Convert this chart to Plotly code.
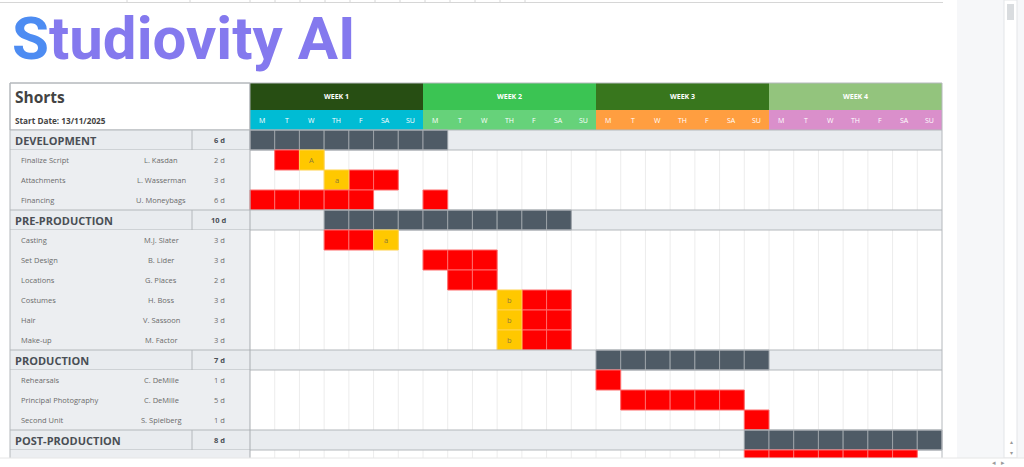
import plotly.graph_objects as go

# ---------------- data ----------------
logo_text = "Studiovity AI"
project_title = "Shorts"
start_date = "Start Date: 13/11/2025"
weeks = ["WEEK 1", "WEEK 2", "WEEK 3", "WEEK 4"]
day_labels = ["M", "T", "W", "TH", "F", "SA", "SU"]

phases = ["DEVELOPMENT", "PRE-PRODUCTION", "PRODUCTION", "POST-PRODUCTION"]
phase_durations = ["6 d", "10 d", "7 d", "8 d"]
phase_starts = [0, 3, 14, 20]
phase_spans = [8, 10, 7, 8]

task_names = [
    ["Finalize Script", "Attachments", "Financing"],
    ["Casting", "Set Design", "Locations", "Costumes", "Hair", "Make-up"],
    ["Rehearsals", "Principal Photography", "Second Unit"],
    [""],
]
task_owners = [
    ["L. Kasdan", "L. Wasserman", "U. Moneybags"],
    ["M.J. Slater", "B. Lider", "G. Places", "H. Boss", "V. Sassoon", "M. Factor"],
    ["C. DeMille", "C. DeMille", "S. Spielberg"],
    [""],
]
task_durations = [
    ["2 d", "3 d", "6 d"],
    ["3 d", "3 d", "2 d", "3 d", "3 d", "3 d"],
    ["1 d", "5 d", "1 d"],
    [""],
]
task_work_days = [
    [[1], [4, 5], [0, 1, 2, 3, 4, 7]],
    [[3, 4], [7, 8, 9], [8, 9], [11, 12], [11, 12], [11, 12]],
    [[14], [15, 16, 17, 18, 19], [20]],
    [[20, 21, 22, 23, 24, 25, 26]],
]
task_milestones = [
    [{2: "A"}, {3: "a"}, {}],
    [{5: "a"}, {}, {}, {10: "b"}, {10: "b"}, {10: "b"}],
    [{}, {}, {}],
    [{}],
]

# ---------------- styling ----------------
W, H = 1024, 467
DAY_PX = 692 / 28
ROW_PX = 20
N_DAYS = 28


def X(p):
    return (p - 250) / DAY_PX


def Y(p):
    return (p - 130) / ROW_PX


WEEK_COLORS = ["#274e13", "#3bc453", "#38761d", "#93c47d"]
DAY_COLORS = ["#00bcd4", "#66d27a", "#ff9e40", "#da8fcb"]
SEC_BG = "#e9ecef"
TASK_BG = "#eceef1"
SUMMARY = "#4f5b66"
RED = "#ff0000"
YELLOW = "#ffc800"
BORDER = "#b4b8bc"
FONT = "Open Sans"

shapes = []
annotations = []


def rect(x0, x1, y0, y1, fill, line=None, lw=0, layer="below"):
    shapes.append(dict(type="rect", xref="x", yref="y", x0=x0, x1=x1, y0=y0, y1=y1,
                       fillcolor=fill, line=dict(color=line or fill, width=lw), layer=layer))


def line(x0, x1, y0, y1, color, width=1, layer="below"):
    shapes.append(dict(type="line", xref="x", yref="y", x0=x0, x1=x1, y0=y0, y1=y1,
                       line=dict(color=color, width=width), layer=layer))


def text(x, y, s, size, color, bold=False, anchor="left", family=FONT):
    annotations.append(dict(x=x, y=y, xref="x", yref="y", text=s, showarrow=False,
                            xanchor=anchor, yanchor="middle",
                            font=dict(family=family, size=size, color=color,
                                      weight="bold" if bold else "normal")))


# build rows
rows = []  # (kind, phase_idx, task_idx)
for p in range(len(phases)):
    rows.append(("phase", p, None))
    for t in range(len(task_names[p])):
        rows.append(("task", p, t))

bottom = Y(H)

# gantt white background and grid lines
rect(0, N_DAYS, 0, bottom, "#ffffff")
for d in range(1, N_DAYS):
    line(d, d, 0, bottom, "#ececec", 1)

# header
top = Y(83)
rect(X(10), 0, top, 0, "#ffffff", BORDER, 1)
for w in range(len(weeks)):
    rect(7 * w, 7 * w + 7, top, -1, WEEK_COLORS[w])
    rect(7 * w, 7 * w + 7, -1, 0, DAY_COLORS[w])
    text(7 * w + 3.5, (top - 1) / 2, "<b>" + weeks[w] + "</b>", 7, "#ffffff", anchor="center")
    for i, dl in enumerate(day_labels):
        text(7 * w + i + 0.5, -0.5, dl, 7, "#ffffff", anchor="center")

text(X(13), Y(97), "<b>" + project_title + "</b>", 15.5, "#434343")
text(X(13), Y(120.5), "<b>" + start_date + "</b>", 8.2, "#434343")

for r, (kind, p, t) in enumerate(rows):
    if kind == "phase":
        rect(X(10), N_DAYS, r, r + 1, SEC_BG)
        for d in range(phase_starts[p], phase_starts[p] + phase_spans[p]):
            rect(d, d + 1, r, r + 1, SUMMARY, "#9aa0a6", 1)
        line(X(10), N_DAYS, r, r, BORDER, 1.2)
        line(X(10), N_DAYS, r + 1, r + 1, BORDER, 1.2)
        line(X(192), X(192), r, r + 1, BORDER, 1)
        text(X(13), r + 0.53, "<b>" + phases[p] + "</b>", 11, "#4a4f55")
        text(X(219), r + 0.5, "<b>" + phase_durations[p] + "</b>", 7.5, "#4a4f55", anchor="center")
    else:
        rect(X(10), 0, r, r + 1, TASK_BG)
        for d in task_work_days[p][t]:
            rect(d, d + 1, r, r + 1, RED, "#ff6a6a", 1)
        for d, lab in task_milestones[p][t].items():
            rect(d, d + 1, r, r + 1, YELLOW, "#ffd24d", 1)
            text(d + 0.5, r + 0.5, lab, 7.5, "#8c7a3c", anchor="center")
        text(X(19), r + 0.5, task_names[p][t], 7.5, "#6b6b6b")
        text(X(161), r + 0.5, task_owners[p][t], 7.5, "#6b6b6b", anchor="center")
        text(X(219), r + 0.5, task_durations[p][t], 7.5, "#6b6b6b", anchor="center")

# table borders
line(X(10), X(10), top, bottom, BORDER, 1)
line(0, 0, top, bottom, "#a9adb1", 1)
line(N_DAYS, N_DAYS, top, bottom, BORDER, 1)
line(X(10), N_DAYS, top, top, BORDER, 1)

# spreadsheet chrome: top line, right panel, bottom strip
line(X(0), X(1024), Y(2.5), Y(2.5), "#d6d6d6", 1, layer="above")
for px in [127, 190, 250, 275, 300, 325, 350, 375, 400, 425, 450, 475, 500, 525]:
    line(X(px), X(px), Y(0), Y(3), "#d6d6d6", 1, layer="above")
rect(X(943), X(957), Y(0), bottom, "#ffffff", layer="above")
rect(X(957), X(1024), Y(0), bottom, "#f6f7f9", layer="above")
rect(X(1004), X(1017), Y(0), Y(458), "#ffffff", "#e3e5e8", 1, layer="above")
rect(X(1007), X(1014), Y(4), Y(20), "#d9dcdf", layer="above")
rect(X(0), X(1024), Y(458), bottom, "#ffffff", layer="above")
line(X(0), X(1024), Y(458), Y(458), "#e6e6e6", 1, layer="above")
text(X(994), Y(462), "◂", 7, "#9a9a9a", anchor="center")
text(X(1003), Y(462), "▸", 7, "#9a9a9a", anchor="center")
text(X(1011), Y(441.5), "▴", 6, "#9a9a9a", anchor="center")
text(X(1011), Y(452.5), "▾", 6, "#9a9a9a", anchor="center")

# logo
annotations.append(dict(
    x=X(10), y=Y(38), xref="x", yref="y", showarrow=False, xanchor="left", yanchor="middle",
    text="<span style='color:#4d8cf2'>S</span>" + logo_text[1:],
    font=dict(family="Roboto", size=60, color="#8479ee", weight="bold")))

fig = go.Figure()
fig.add_trace(go.Scatter(x=[X(0), X(1024)], y=[Y(0), Y(467)], mode="markers",
                         marker=dict(opacity=0), hoverinfo="skip", showlegend=False))
fig.update_layout(
    width=W, height=H, margin=dict(l=0, r=0, t=0, b=0),
    paper_bgcolor="#ffffff", plot_bgcolor="#ffffff",
    xaxis=dict(range=[X(0), X(W)], visible=False, fixedrange=True),
    yaxis=dict(range=[Y(H), Y(0)], visible=False, fixedrange=True),
    shapes=shapes, annotations=annotations, showlegend=False,
)
fig.write_html("out.html", config=dict(displayModeBar=False),
               post_script="document.body.style.margin='0';document.body.style.overflow='hidden';")
